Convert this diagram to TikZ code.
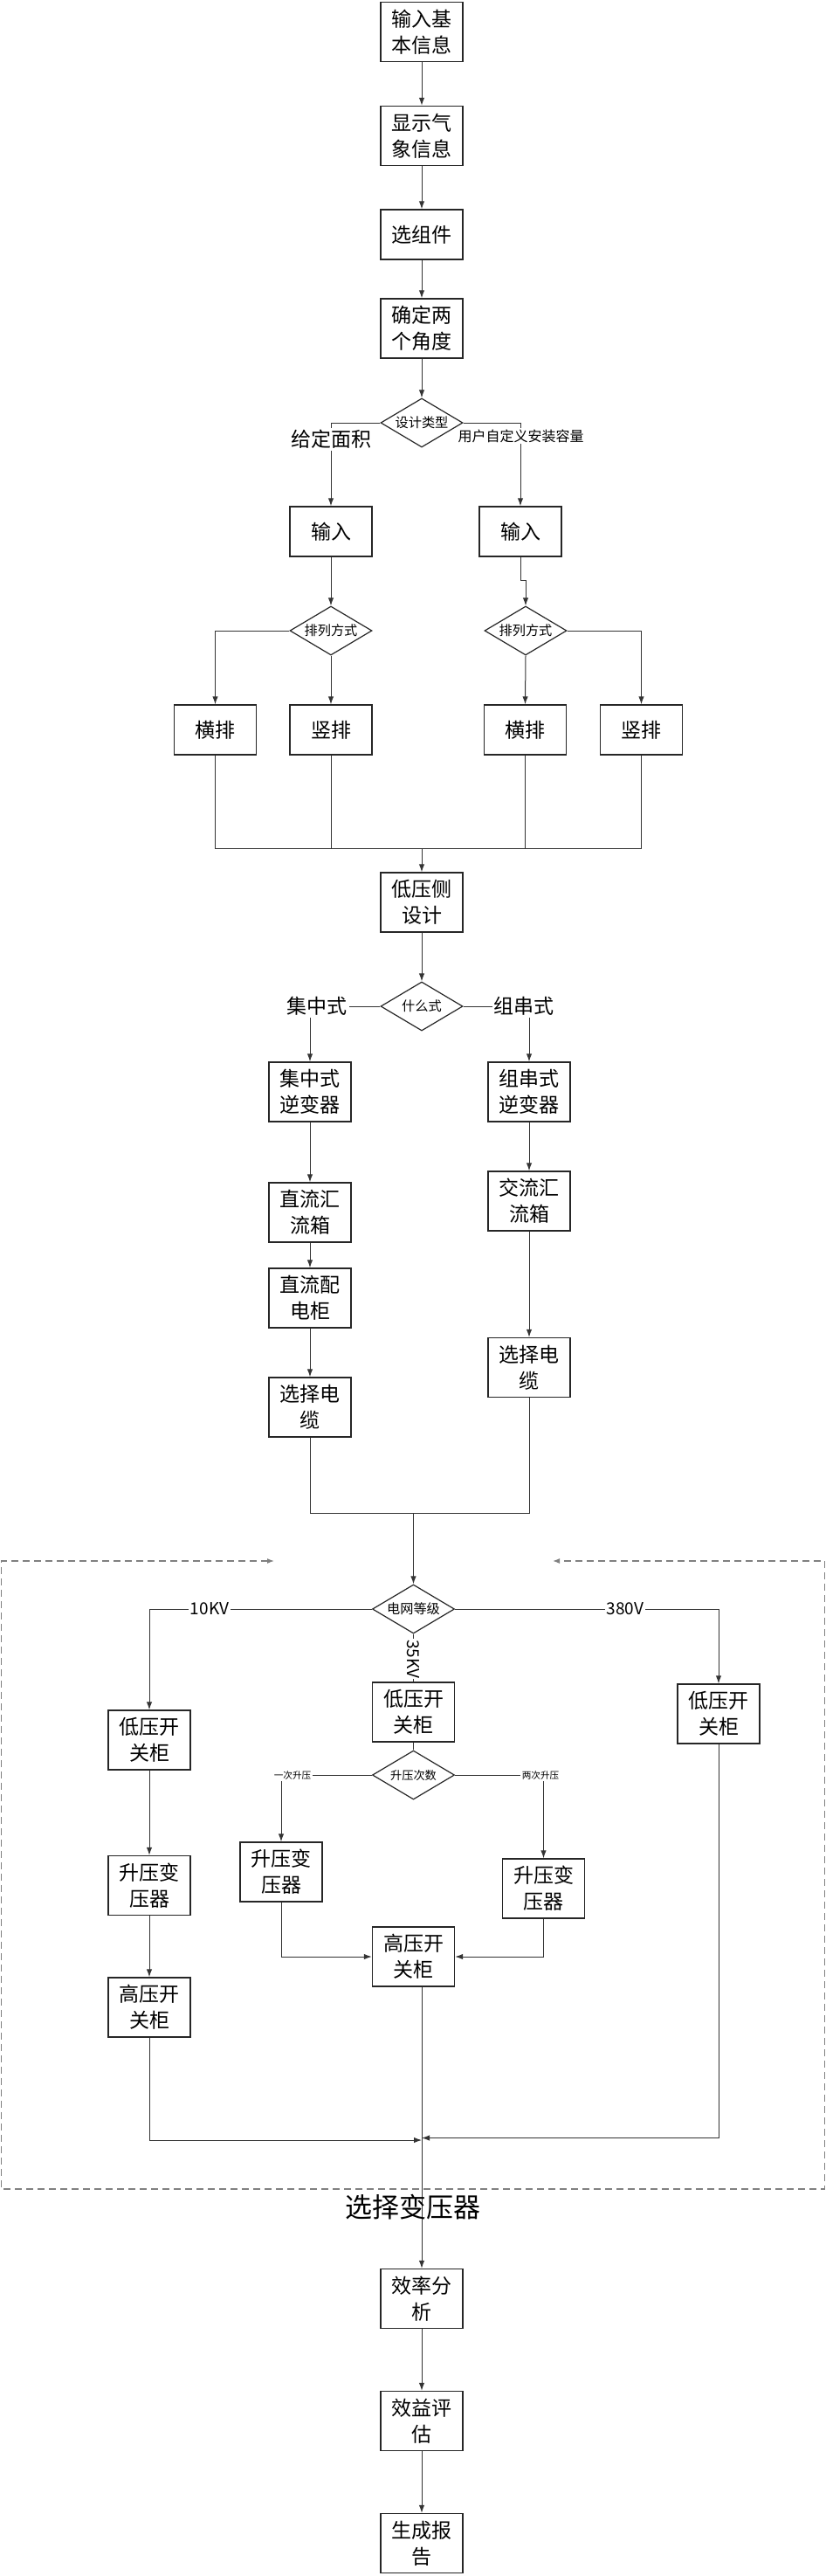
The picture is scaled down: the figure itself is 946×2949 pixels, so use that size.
\documentclass[tikz,border=0pt]{standalone}
\usepackage{fontspec}
\setmainfont{Noto Sans CJK SC}
\usetikzlibrary{arrows.meta,shapes.geometric,calc}
\begin{document}
\begin{tikzpicture}[x=0.5pt,y=-0.5pt,
  box/.style={draw=black!85,line width=0.7pt,minimum width=47pt,minimum height=34pt,inner sep=0pt,align=center,font=\fontsize{11.5}{15}\selectfont},
  sbox/.style={box,minimum height=28.5pt},
  dia/.style={draw=black!85,line width=0.6pt,diamond,aspect=1.68,minimum width=47pt,minimum height=28pt,inner sep=0pt,font=\fontsize{7.6}{9}\selectfont},
  lbl/.style={fill=white,inner sep=1pt,font=\fontsize{11.5}{14}\selectfont},
  slbl/.style={fill=white,inner sep=1pt,font=\fontsize{8}{10}\selectfont},
  ln/.style={draw=black!80,line width=0.5pt},
  arr/.style={ln,-{Latex[length=4.5pt,width=3.2pt]}},
  dsh/.style={draw=black!50,line width=0.6pt,dash pattern=on 4pt off 2.5pt,{Latex[length=4pt,width=3pt]}-{Latex[length=4pt,width=3pt]}}
]
\useasboundingbox (0,0) rectangle (946,2949);
% top column
\node[box] (b1) at (483,36.5) {输入基\\本信息};
\node[box] (b2) at (483,155.5) {显示气\\象信息};
\node[sbox] (b3) at (483,268.5) {选组件};
\node[box] (b4) at (483,376) {确定两\\个角度};
\node[dia] (d1) at (483,484) {设计类型};
\node[sbox] (inL) at (379,608.5) {输入};
\node[sbox] (inR) at (596,608.5) {输入};
\node[dia] (dL) at (379,722) {排列方式};
\node[dia] (dR) at (602,722) {排列方式};
\node[sbox] (hL) at (246.5,835.5) {横排};
\node[sbox] (sL) at (379,835.5) {竖排};
\node[sbox] (hR) at (601.5,835.5) {横排};
\node[sbox] (sR) at (734.5,835.5) {竖排};
\node[box] (low) at (483,1033) {低压侧\\设计};
\node[dia] (d2) at (483,1152) {什么式};
\node[box] (inv1) at (355,1250) {集中式\\逆变器};
\node[box] (dcb) at (355,1388) {直流汇\\流箱};
\node[box] (dcc) at (355,1486) {直流配\\电柜};
\node[box] (cabL) at (355,1611) {选择电\\缆};
\node[box] (inv2) at (606,1250) {组串式\\逆变器};
\node[box] (acb) at (606,1375) {交流汇\\流箱};
\node[box] (cabR) at (606,1565.5) {选择电\\缆};
% grid section
\node[dia] (grid) at (473.5,1842) {电网等级};
\node[box] (lvL) at (171,1992) {低压开\\关柜};
\node[box] (stL) at (171,2158.5) {升压变\\压器};
\node[box] (hvL) at (171,2298) {高压开\\关柜};
\node[box] (lvM) at (473.5,1960) {低压开\\关柜};
\node[dia,font=\fontsize{6.6}{8}\selectfont] (boost) at (473.5,2032) {升压次数};
\node[box] (stML) at (322,2143) {升压变\\压器};
\node[box] (stMR) at (622.5,2162) {升压变\\压器};
\node[box] (hvM) at (473.5,2240) {高压开\\关柜};
\node[box] (lvR) at (823,1962) {低压开\\关柜};
% bottom column
\node[box] (eff) at (483,2631.5) {效率分\\析};
\node[box] (ben) at (483,2771.5) {效益评\\估};
\node[box] (rep) at (483,2911.5) {生成报\\告};

% connectors top
\draw[arr] (b1.south) -- (b2.north);
\draw[arr] (b2.south) -- (b3.north);
\draw[arr] (b3.south) -- (b4.north);
\draw[arr] (b4.south) -- (d1.north);
\draw[arr] (d1.west) -| (inL.north);
\draw[arr] (d1.east) -| (inR.north);
\node[lbl] (lA) at (379,503) {给定面积};
\node[slbl] (lB) at (596.5,499) {用户自定义安装容量};
\draw[arr] (inL.south) -- (dL.north);
\draw[arr] (inR.south) -- ++(0,27) -| (dR.north);
\draw[arr] (dL.west) -| (hL.north);
\draw[arr] (dL.south) -- (sL.north);
\draw[arr] (dR.south) -- (hR.north);
\draw[arr] (dR.east) -| (sR.north);
\coordinate (m1) at (483,971);
\draw[ln] (hL.south) -- (hL.south |- m1) -- (sR.south |- m1) -- (sR.south);
\draw[ln] (sL.south) -- (sL.south |- m1);
\draw[ln] (hR.south) -- (hR.south |- m1);
\draw[arr] (m1) -- (low.north);
\draw[arr] (low.south) -- (d2.north);
\draw[arr] (d2.west) -| (inv1.north);
\draw[arr] (d2.east) -| (inv2.north);
\node[lbl] (lC) at (363,1152) {集中式};
\node[lbl] (lD) at (600,1152) {组串式};
\draw[arr] (inv1.south) -- (dcb.north);
\draw[arr] (dcb.south) -- (dcc.north);
\draw[arr] (dcc.south) -- (cabL.north);
\draw[arr] (inv2.south) -- (acb.north);
\draw[arr] (acb.south) -- (cabR.north);
\coordinate (m2) at (473.5,1732);
\draw[ln] (cabL.south) -- (cabL.south |- m2) -- (cabR.south |- m2) -- (cabR.south);
\draw[arr] (m2) -- (grid.north);
% grid section connectors
\draw[arr] (grid.west) -| (lvL.north);
\draw[arr] (grid.east) -| (lvR.north);
\draw[ln] (grid.south) -- (lvM.north);
\node[slbl,font=\fontsize{9.5}{11}\selectfont] (l10) at (240,1842) {10KV};
\node[slbl,font=\fontsize{9.5}{11}\selectfont] (l380) at (716,1842) {380V};
\node[slbl,font=\fontsize{9.5}{11}\selectfont,rotate=-90,inner sep=0.5pt] (l35) at (473.5,1899) {35KV};
\draw[arr] (lvL.south) -- (stL.north);
\draw[arr] (stL.south) -- (hvL.north);
\draw[ln] (lvM.south) -- (boost.north);
\draw[arr] (boost.west) -| (stML.north);
\draw[arr] (boost.east) -| (stMR.north);
\node[slbl,font=\fontsize{5.3}{7}\selectfont] (l1) at (335,2032) {一次升压};
\node[slbl,font=\fontsize{5.3}{7}\selectfont] (l2) at (619,2032) {两次升压};
\draw[arr] (stML.south) |- (hvM.west);
\draw[arr] (stMR.south) |- (hvM.east);
\coordinate (jL) at (483,2450);
\coordinate (jR) at (483,2447.5);
\draw[arr] (hvL.south) |- (jL);
\draw[arr] (lvR.south) |- (jR);
\draw[arr] (hvM.south -| eff.north) -- (eff.north);
% dashed group
\draw[dsh] (314,1787) -- (1.5,1787) -- (1.5,2506) -- (944.5,2506) -- (944.5,1787) -- (633,1787);
\node[font=\fontsize{15.5}{18}\selectfont,inner sep=1pt] (grp) at (472.5,2527) {选择变压器};
% bottom
\draw[arr] (eff.south) -- (ben.north);
\draw[arr] (ben.south) -- (rep.north);
\end{tikzpicture}
\end{document}
